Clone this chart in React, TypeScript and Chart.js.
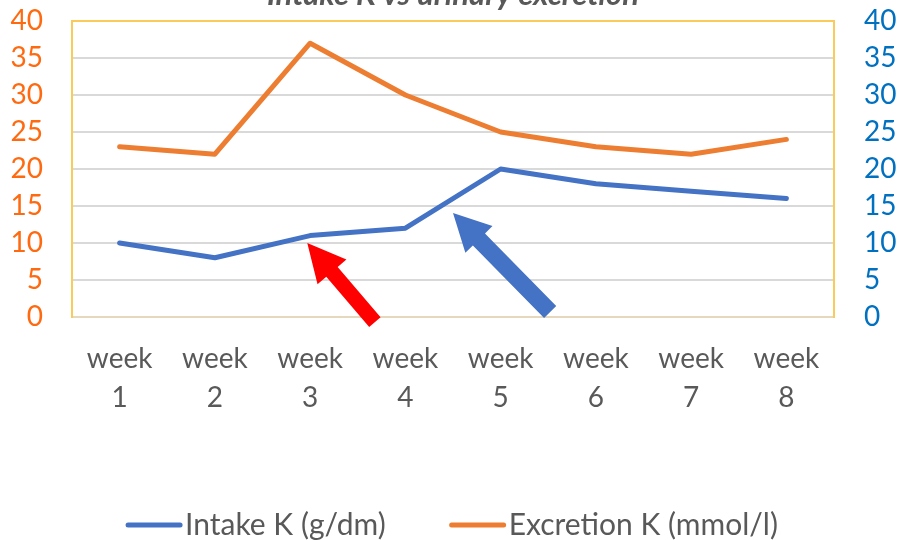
import React, { useEffect, useRef } from "react";
import { Chart, registerables } from "chart.js";

Chart.register(...registerables);

const categories: string[][] = [
  ["week", "1"], ["week", "2"], ["week", "3"], ["week", "4"],
  ["week", "5"], ["week", "6"], ["week", "7"], ["week", "8"],
];
const intakeK: number[] = [10, 8, 11, 12, 20, 18, 17, 16];
const excretionK: number[] = [23, 22, 37, 30, 25, 23, 22, 24];
const yTicks: number[] = [0, 5, 10, 15, 20, 25, 30, 35, 40];
const titleText = "Intake K vs urinary excretion";
const seriesLabels: string[] = ["Intake K (g/dm)", "Excretion K (mmol/l)"];

// arrow annotations in data units (category index, value)
const arrowTails: number[][] = [[2.68, -0.68], [4.52, 0.68]];
const arrowTips: number[][] = [[1.97, 10.0], [3.5, 14.05]];

const FONT = "Lato, 'Open Sans', sans-serif";
const arrowStyles = [
  { color: "#FF0000", shaft: 15, headLen: 38, headW: 38 },
  { color: "#4472C4", shaft: 17, headLen: 37, headW: 38 },
];

const extrasPlugin = {
  id: "extras",
  afterDatasetsDraw(chart: any) {
    const ctx = chart.ctx;
    const xs = chart.scales.x;
    const ys = chart.scales.y;
    ctx.save();
    arrowTails.forEach((t, i) => {
      const st = arrowStyles[i];
      const x0 = xs.getPixelForValue(t[0]);
      const y0 = ys.getPixelForValue(t[1]);
      const x1 = xs.getPixelForValue(arrowTips[i][0]);
      const y1 = ys.getPixelForValue(arrowTips[i][1]);
      const dx = x1 - x0, dy = y1 - y0;
      const L = Math.hypot(dx, dy);
      const ux = dx / L, uy = dy / L;
      const px = -uy, py = ux;
      const bx = x1 - ux * st.headLen, by = y1 - uy * st.headLen;
      const s = st.shaft / 2, h = st.headW / 2;
      ctx.beginPath();
      ctx.moveTo(x0 + px * s, y0 + py * s);
      ctx.lineTo(bx + px * s, by + py * s);
      ctx.lineTo(bx + px * h, by + py * h);
      ctx.lineTo(x1, y1);
      ctx.lineTo(bx - px * h, by - py * h);
      ctx.lineTo(bx - px * s, by - py * s);
      ctx.lineTo(x0 - px * s, y0 - py * s);
      ctx.closePath();
      ctx.fillStyle = st.color;
      ctx.fill();
    });
    ctx.restore();
  },
  afterDraw(chart: any) {
    const ctx = chart.ctx;
    const ca = chart.chartArea;
    ctx.save();
    // title (partly cut off at top)
    ctx.font = `italic bold 31px ${FONT}`;
    ctx.fillStyle = "#595959";
    ctx.textAlign = "center";
    ctx.textBaseline = "alphabetic";
    ctx.fillText(titleText, (ca.left + ca.right) / 2, 5);
    // legend
    ctx.font = `30px ${FONT}`;
    const lineLen = 56, gap = 3, spacing = 64;
    const ds = chart.data.datasets;
    const widths = ds.map((d: any) => ctx.measureText(d.label).width);
    let total = 0;
    widths.forEach((w: number, i: number) => {
      total += lineLen + gap + w + (i > 0 ? spacing : 0);
    });
    let x = chart.width / 2 - total / 2;
    const yc = 525;
    ctx.textAlign = "left";
    ctx.textBaseline = "middle";
    ds.forEach((d: any, i: number) => {
      ctx.strokeStyle = d.borderColor;
      ctx.lineWidth = 5;
      ctx.lineCap = "round";
      ctx.beginPath();
      ctx.moveTo(x + 2, yc);
      ctx.lineTo(x + lineLen - 2, yc);
      ctx.stroke();
      ctx.fillStyle = "#595959";
      ctx.fillText(d.label, x + lineLen + gap, yc);
      x += lineLen + gap + widths[i] + spacing;
    });
    ctx.restore();
  },
};

export default function App() {
  const ref = useRef<HTMLCanvasElement | null>(null);
  useEffect(() => {
    if (!ref.current) return;
    const chart = new Chart(ref.current, {
      type: "line",
      data: {
        labels: categories,
        datasets: [
          {
            label: seriesLabels[0],
            data: intakeK,
            borderColor: "#4472C4",
            backgroundColor: "#4472C4",
            borderWidth: 5,
            pointRadius: 0,
            borderCapStyle: "round",
            borderJoinStyle: "round",
            yAxisID: "y2",
            tension: 0,
          },
          {
            label: seriesLabels[1],
            data: excretionK,
            borderColor: "#ED7D31",
            backgroundColor: "#ED7D31",
            borderWidth: 5,
            pointRadius: 0,
            borderCapStyle: "round",
            borderJoinStyle: "round",
            yAxisID: "y",
            tension: 0,
          },
        ],
      },
      options: {
        animation: false,
        responsive: true,
        maintainAspectRatio: false,
        layout: { padding: { top: 21, left: 0, right: 0, bottom: 0 } },
        plugins: {
          legend: { display: false },
          title: { display: false },
          tooltip: { enabled: false },
        },
        scales: {
          x: {
            offset: true,
            grid: { display: false, drawTicks: false },
            border: { color: "#E6D8BD", width: 2 },
            ticks: {
              color: "#595959",
              font: { family: FONT, size: 28, lineHeight: 1.4 },
              padding: 22,
              maxRotation: 0,
              autoSkip: false,
            },
            afterFit(scale: any) {
              scale.height = 223;
              scale.paddingLeft = 0;
              scale.paddingRight = 0;
            },
          },
          y: {
            position: "left",
            min: 0,
            max: 40,
            afterBuildTicks(scale: any) {
              scale.ticks = yTicks.map((v) => ({ value: v }));
            },
            grid: {
              drawTicks: false,
              lineWidth: 2,
              color: (c: any) => (c.tick && c.tick.value === 40 ? "#FACB5A" : "#D9D9D9"),
            },
            border: { color: "#FACB5A", width: 2 },
            ticks: {
              color: "#FF6A10",
              font: { family: FONT, size: 28 },
              padding: 29,
              autoSkip: false,
            },
            afterFit(scale: any) {
              scale.width = 72;
              scale.paddingTop = 0;
              scale.paddingBottom = 0;
            },
          },
          y2: {
            position: "right",
            min: 0,
            max: 40,
            afterBuildTicks(scale: any) {
              scale.ticks = yTicks.map((v) => ({ value: v }));
            },
            grid: { display: false, drawTicks: false },
            border: { color: "#FACB5A", width: 2 },
            ticks: {
              color: "#0070C0",
              font: { family: FONT, size: 28 },
              padding: 30,
              autoSkip: false,
            },
            afterFit(scale: any) {
              scale.width = 70;
              scale.paddingTop = 0;
              scale.paddingBottom = 0;
            },
          },
        },
      },
      plugins: [extrasPlugin],
    });
    return () => chart.destroy();
  }, []);
  return (
    <div style={{ position: "fixed", left: 0, top: 0, width: 904, height: 540, background: "#fff" }}>
      <canvas ref={ref} />
    </div>
  );
}
